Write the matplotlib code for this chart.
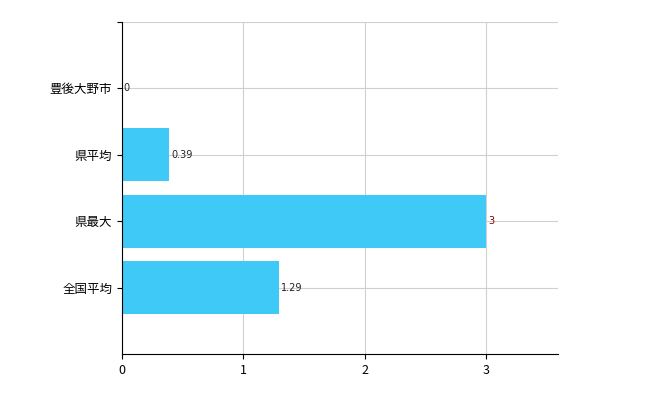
import matplotlib
matplotlib.use("Agg")
import matplotlib.pyplot as plt

plt.rcParams['font.family'] = ['Noto Sans CJK JP', 'DejaVu Sans']

categories = ["全国平均", "県最大", "県平均", "豊後大野市"]
values = [1.29, 3, 0.39, 0]
labels = ["1.29", "3", "0.39", "0"]
label_colors = ["#222222", "#8b0000", "#222222", "#222222"]

fig = plt.figure(figsize=(6.5, 4), dpi=100)
ax = fig.add_axes([122/650, 46/400, 436/650, 332/400])
pos = list(range(len(categories)))
ax.barh(pos, values, height=0.8, color="#3ec9f7", zorder=2)
for p, v, t, c in zip(pos, values, labels, label_colors):
    ax.text(v + 0.015, p, t, va="center", ha="left", fontsize=7, color=c,
            family=['DejaVu Sans'])
ax.set_yticks(pos + [4])
ax.set_yticklabels(categories + [""], fontsize=9)
ax.set_ylim(-1, 4)
ax.set_xlim(0, 3.59)
ax.set_xticks([0, 1, 2, 3])
ax.tick_params(axis='x', labelsize=9)
ax.grid(True, color="#d0d0d0", linewidth=0.8, zorder=0)
for s in ["top", "right"]:
    ax.spines[s].set_visible(False)
fig.savefig("out.png")
